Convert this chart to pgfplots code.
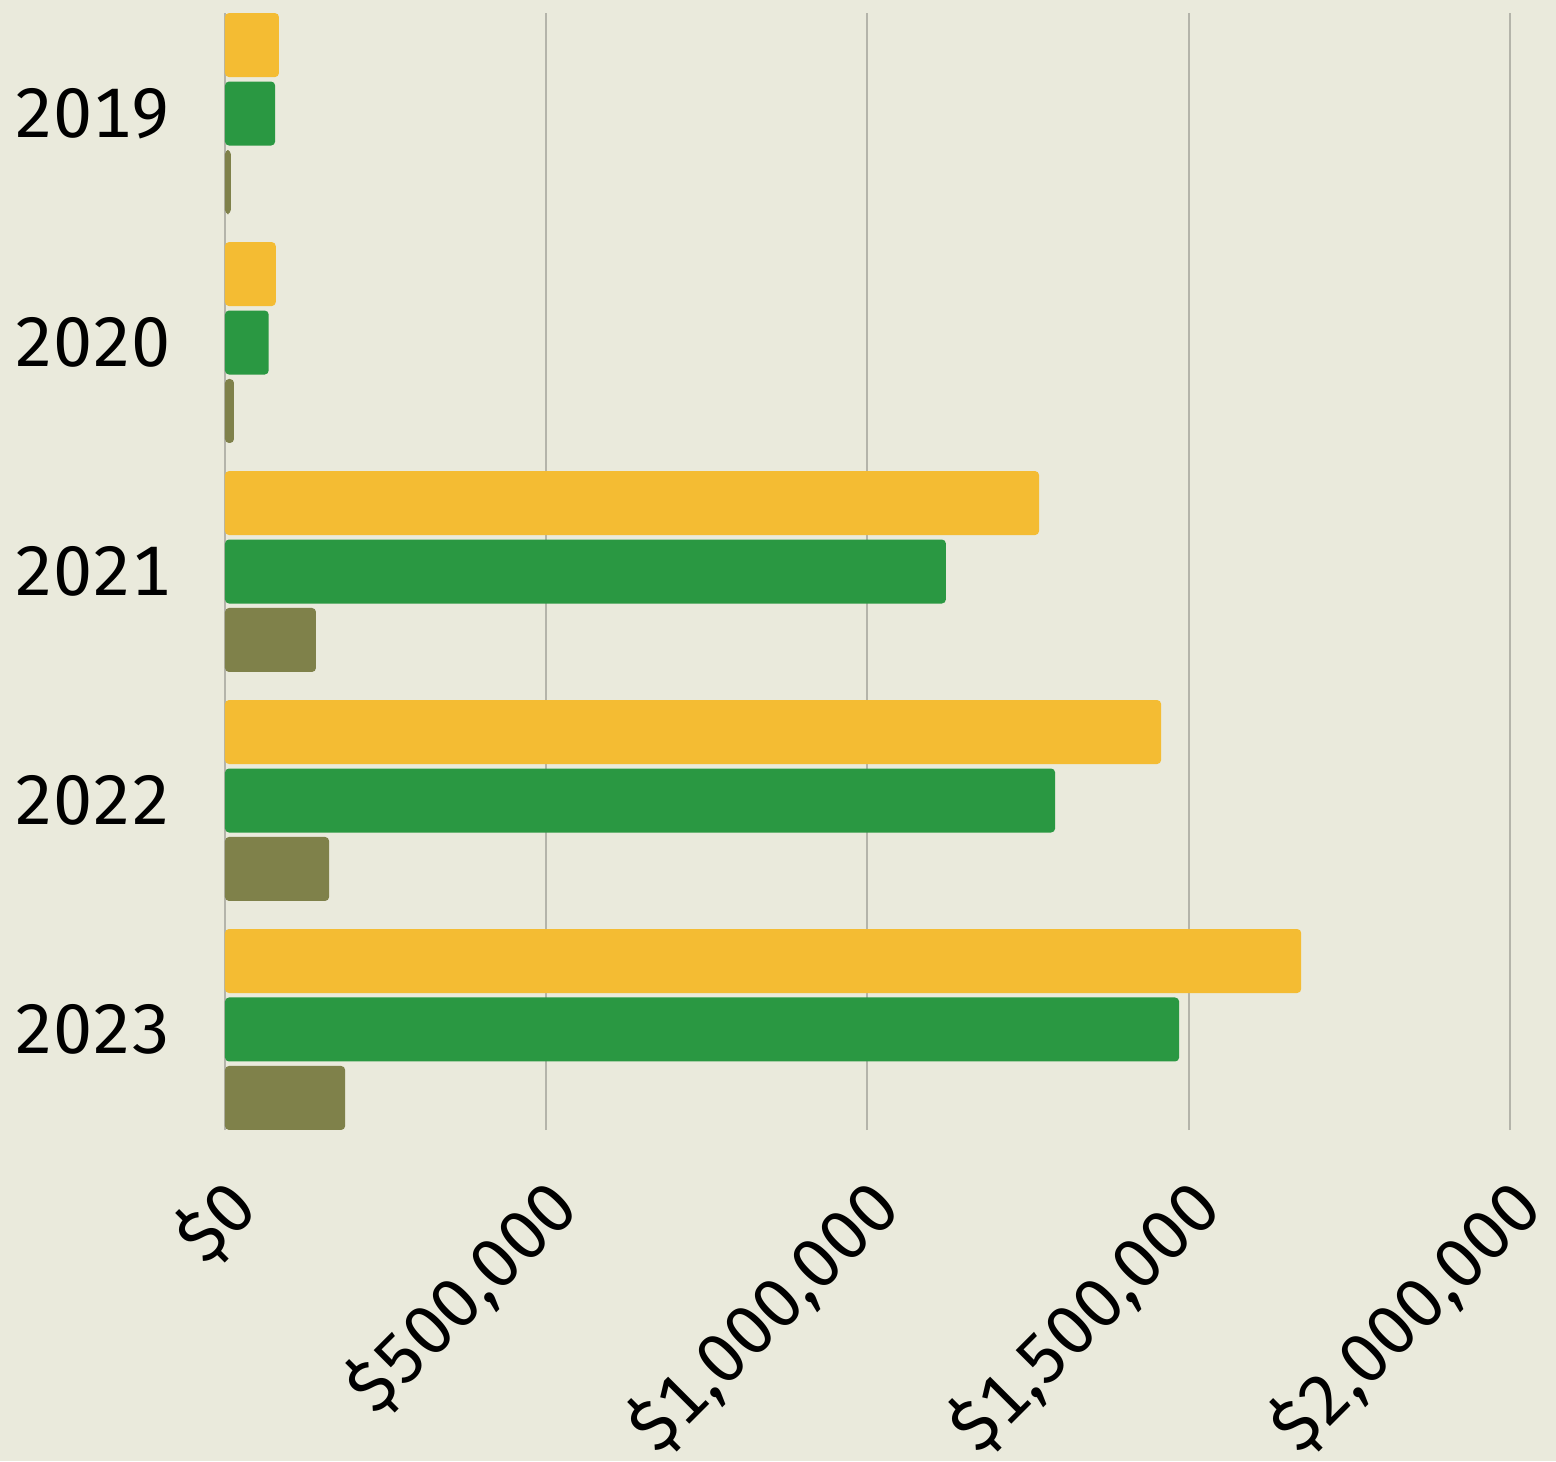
\documentclass[border=0pt]{standalone}
\usepackage{pgfplots}
\pgfplotsset{compat=1.18}
\usepackage{fontspec}
\setmainfont{Fira Sans}[Numbers=Monospaced]
\newfontfamily\yfont{Fira Sans}[Numbers=Monospaced]
\newfontfamily\xfont{Fira Sans}[Numbers=Monospaced]
\definecolor{bg}{HTML}{EAEADC}
\definecolor{cyel}{HTML}{F4BC33}
\definecolor{cgrn}{HTML}{2A9842}
\definecolor{colv}{HTML}{7F814A}
\definecolor{cgrid}{HTML}{B4B4AA}
\begin{document}
\begin{tikzpicture}
\fill[bg] (-56.25pt,-82.75pt) rectangle (332.75pt,282.5pt);
\useasboundingbox (-56.25pt,-82.75pt) rectangle (332.75pt,282.5pt);
\begin{axis}[
  at={(0,0)}, anchor=south west,
  scale only axis, width=321.25pt, height=279.25pt,
  xbar, bar width=0.2795,
  xmin=0, xmax=2000000, ymin=-0.439, ymax=4.439,
  axis line style={draw=none},
  major tick length=0pt,
  xmajorgrids, grid style={cgrid, line width=0.5pt},
  xtick={0,500000,1000000,1500000,2000000},
  xticklabels={\$0,{\$500,000},{\$1,000,000},{\$1,500,000},{\$2,000,000}},
  ytick={0,1,2,3,4},
  yticklabels={2023,2022,2021,2020,2019},
  tick label style={text=black},
  xticklabel style={font=\xfont\fontsize{17.5}{20}\selectfont, inner sep=0pt, xshift=4.75pt, yshift=-16pt, rotate=45, anchor=east},
  yticklabel style={font=\yfont\fontsize{17.5}{20}\selectfont, inner sep=0pt, xshift=-13.25pt, anchor=east},
  scaled x ticks=false,
  clip=false,
]
\addplot[draw=none, fill=cyel, rounded corners=1pt, bar shift=0.299] coordinates {
  (84000,4) (79000,3) (1267000,2) (1457000,1) (1675000,0)};
\addplot[draw=none, fill=cgrn, rounded corners=1pt, bar shift=0] coordinates {
  (78000,4) (68000,3) (1122000,2) (1292000,1) (1485000,0)};
\addplot[draw=none, fill=colv, rounded corners=1pt, bar shift=-0.299] coordinates {
  (9000,4) (14000,3) (141600,2) (162000,1) (187000,0)};
\end{axis}
\end{tikzpicture}
\end{document}
